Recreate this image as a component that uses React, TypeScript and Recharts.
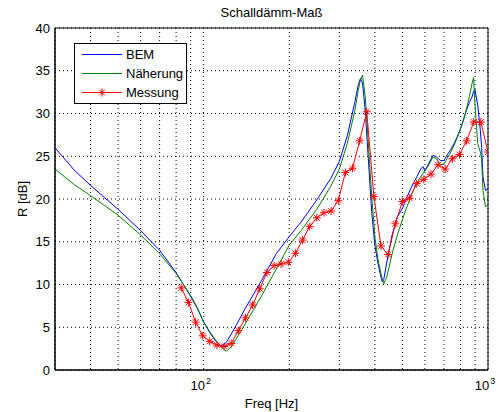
import {
  LineChart,
  Line,
  XAxis,
  YAxis,
  CartesianGrid,
  Legend,
  ReferenceArea,
} from "recharts";

// simulated curves (BEM + Näherung), Hz / dB
const curveFreq = [
  30, 35, 40, 45, 50, 60, 70, 80, 90, 95, 100, 105, 110, 115, 120, 125, 130,
  140, 150, 160, 180, 200, 220, 250, 280, 300, 320, 340, 350, 356, 362, 370,
  380, 390, 400, 410, 420, 425, 430, 440, 460, 480, 500, 520, 540, 560, 580,
  590, 600, 620, 640, 660, 680, 700, 720, 740, 760, 780, 800, 820, 840, 860,
  880, 890, 900, 920, 940, 950, 960, 980, 1000,
];
const bemR = [
  26.0, 23.4, 21.6, 20.1, 18.8, 16.3, 14.0, 11.4, 8.6, 7.2, 5.6, 4.4, 3.4,
  2.8, 3.2, 4.2, 5.2, 7.2, 8.9, 10.5, 13.6, 15.6, 17.3, 19.9, 22.4, 24.4,
  27.4, 31.3, 33.4, 34.1, 33.6, 30.4, 24.3, 18.5, 14.6, 12.5, 10.9, 10.3,
  10.6, 12.5, 15.8, 17.9, 18.9, 20.3, 21.5, 22.5, 23.5, 23.8, 23.3, 24.2,
  25.1, 24.9, 24.5, 24.5, 25.2, 25.8, 26.5, 27.3, 28.2, 29.3, 30.4, 31.3,
  32.0, 32.6, 32.8, 31.0, 28.0, 26.0, 22.6, 21.0, 21.2,
];
const naeherungR = [
  23.5, 21.7, 20.4, 19.2, 18.1, 15.8, 13.6, 11.3, 8.7, 7.3, 5.6, 4.5, 3.5,
  2.7, 2.2, 2.7, 3.6, 5.4, 7.1, 8.7, 11.8, 14.6, 16.3, 18.8, 21.5, 23.5,
  26.5, 30.3, 32.8, 33.9, 34.5, 32.0, 26.2, 20.3, 15.6, 13.0, 11.3, 10.6,
  10.1, 10.8, 13.6, 15.8, 17.6, 19.2, 20.6, 21.8, 22.6, 23.0, 23.3, 24.0,
  24.9, 24.7, 24.0, 24.1, 24.8, 25.5, 26.3, 27.2, 28.2, 29.2, 30.5, 32.0,
  33.6, 34.2, 31.0, 26.5, 25.5, 24.6, 21.0, 19.1, 19.3,
];

// measurement, 1/12 octave
const messFreq = [
  83.4, 88.4, 93.7, 99.2, 105.1, 111.4, 118.0, 125.0, 132.4, 140.3, 148.7,
  157.5, 166.9, 176.8, 187.3, 198.4, 210.2, 222.7, 236.0, 250.0, 264.9, 280.6,
  297.3, 315.0, 333.7, 353.6, 374.6, 396.9, 420.4, 445.4, 471.9, 500.0, 529.7,
  561.2, 594.6, 630.0, 667.4, 707.1, 749.2, 793.7, 840.9, 890.9, 943.9, 1000,
];
const messR = [
  9.6, 7.9, 5.6, 4.0, 3.35, 2.9, 2.75, 3.1, 4.6, 6.1, 7.6, 9.5, 11.4, 12.2,
  12.4, 12.6, 13.65, 15.2, 16.8, 17.8, 18.4, 18.6, 19.8, 23.1, 23.6, 26.8,
  30.2, 20.3, 14.5, 13.5, 17.1, 19.7, 20.1, 21.8, 22.3, 22.9, 24.0, 23.5,
  24.7, 25.2, 26.8, 29.0, 29.0, 25.5,
];

const xTicks = [40, 50, 60, 70, 80, 90, 100, 200, 300, 400, 500, 600, 700, 800, 900, 1000];
const xLabels: Record<number, string> = { 100: "2", 1000: "3" };
const yTicks = [0, 5, 10, 15, 20, 25, 30, 35, 40];

const bemData = curveFreq.map((f, i) => ({ f, r: bemR[i] }));
const naehData = curveFreq.map((f, i) => ({ f, r: naeherungR[i] }));
const messData = messFreq.map((f, i) => ({ f, r: messR[i] }));

const FONT = "'Liberation Sans', Arial, sans-serif";

function Star({ cx, cy, s = 4 }: any) {
  if (cx == null || cy == null) return null;
  const d = s * 0.72;
  return (
    <g stroke="#ff0000" strokeWidth={1}>
      <line x1={cx - s} y1={cy} x2={cx + s} y2={cy} />
      <line x1={cx} y1={cy - s} x2={cx} y2={cy + s} />
      <line x1={cx - d} y1={cy - d} x2={cx + d} y2={cy + d} />
      <line x1={cx - d} y1={cy + d} x2={cx + d} y2={cy - d} />
    </g>
  );
}

function XTick({ x, y, payload }: any) {
  const exp = xLabels[payload.value];
  if (!exp) return <g />;
  return (
    <text x={x - 3} y={y} dy="0.71em" textAnchor="middle" fontSize={13} fill="#000">
      10
      <tspan dx={1} dy={-6} fontSize={9}>
        {exp}
      </tspan>
    </text>
  );
}

const entries = [
  { name: "BEM", color: "#0000ff", star: false },
  { name: "Näherung", color: "#008000", star: false },
  { name: "Messung", color: "#ff0000", star: true },
];

function LegendBox() {
  return (
    <div
      style={{
        width: 113,
        height: 61,
        boxSizing: "border-box",
        border: "1px solid #000",
        background: "#fff",
      }}
    >
      <svg width={111} height={59} style={{ display: "block" }}>
        {entries.map((e, i) => {
          const y = 10.5 + i * 19;
          return (
            <g key={e.name}>
              <line x1={7} y1={y} x2={47} y2={y} stroke={e.color} strokeWidth={1} />
              {e.star && <Star cx={27} cy={y} />}
              <text
                x={51}
                y={y}
                dy="0.36em"
                fontSize={13}
                fill="#000"
                fontFamily={FONT}
              >
                {e.name}
              </text>
            </g>
          );
        })}
      </svg>
    </div>
  );
}

export default function App() {
  return (
    <div
      style={{
        position: "absolute",
        left: 0,
        top: 0,
        width: 500,
        height: 412,
        background: "#fff",
        fontFamily: FONT,
      }}
    >
      <div
        style={{
          position: "absolute",
          left: 55,
          top: 5,
          width: 433,
          textAlign: "center",
          fontSize: 13,
          lineHeight: "15px",
          color: "#000",
        }}
      >
        Schalldämm-Maß
      </div>
      <LineChart
        width={500}
        height={412}
        margin={{ top: 28, right: 12, bottom: 0, left: 0 }}
      >
        <CartesianGrid stroke="#000" strokeDasharray="1 3" />
        <XAxis
          type="number"
          dataKey="f"
          scale="log"
          domain={[30, 1000]}
          allowDataOverflow
          ticks={xTicks}
          interval={0}
          height={42}
          tickLine={false}
          tickSize={9}
          tickMargin={2}
          tick={<XTick />}
          stroke="#000"
          label={{
            value: "Freq [Hz]",
            position: "insideBottom",
            offset: 4,
            fontSize: 13,
            fill: "#000",
          }}
        />
        <YAxis
          type="number"
          domain={[0, 40]}
          ticks={yTicks}
          interval={0}
          width={55}
          tickLine={false}
          tickSize={4}
          tickMargin={1}
          tick={{ fontSize: 13, fill: "#000" }}
          stroke="#000"
          label={{
            value: "R [dB]",
            angle: -90,
            position: "insideLeft",
            offset: 22,
            fontSize: 13,
            fill: "#000",
            style: { textAnchor: "middle" },
          }}
        />
        <Line
          data={bemData}
          dataKey="r"
          name="BEM"
          type="linear"
          stroke="#0000ff"
          strokeWidth={1}
          dot={false}
          isAnimationActive={false}
        />
        <Line
          data={naehData}
          dataKey="r"
          name="Näherung"
          type="linear"
          stroke="#008000"
          strokeWidth={1}
          dot={false}
          isAnimationActive={false}
        />
        <Line
          data={messData}
          dataKey="r"
          name="Messung"
          type="linear"
          stroke="#ff0000"
          strokeWidth={1}
          dot={(p: any) => <Star key={p.index} cx={p.cx} cy={p.cy} />}
          isAnimationActive={false}
        />
        <ReferenceArea
          x1={30}
          x2={1000}
          y1={0}
          y2={40}
          fill="none"
          stroke="#000"
          strokeWidth={1}
          ifOverflow="visible"
        />
        <Legend
          layout="vertical"
          align="center"
          verticalAlign="middle"
          content={<LegendBox />}
          wrapperStyle={{ left: 74, top: 43, width: 113, height: 61 }}
        />
      </LineChart>
    </div>
  );
}
